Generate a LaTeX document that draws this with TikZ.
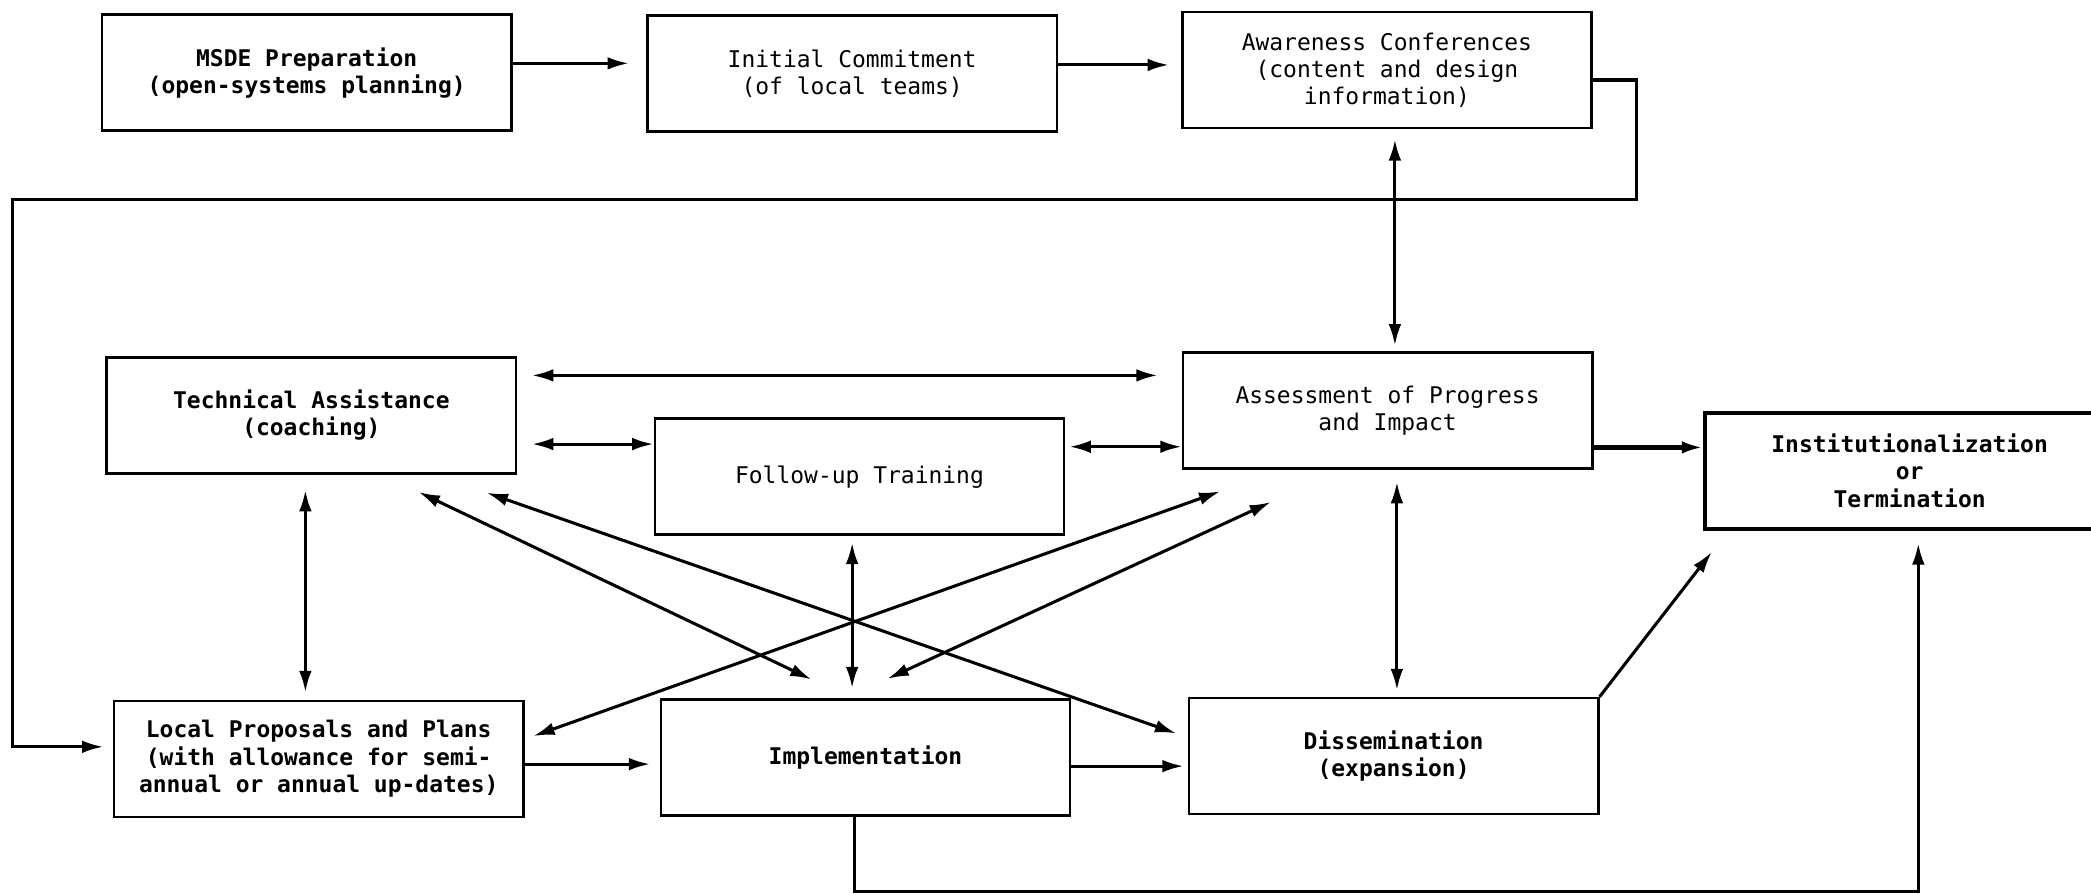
\documentclass[tikz,border=0pt]{standalone}
\usepackage{fontspec}
\setmonofont{DejaVu Sans Mono}
\usetikzlibrary{arrows.meta}
\begin{document}
\begin{tikzpicture}[x=.02cm,y=-.02cm,line width=1.1pt,
	box/.style={draw,minimum width=6.14cm,minimum height=1.74cm,inner sep=0pt,align=center,font=\ttfamily\fontsize{9.8}{11.6}\selectfont},
	bf/.style={font=\ttfamily\bfseries\fontsize{9.8}{11.6}\selectfont},
	arr/.style={-{Latex[length=.32cm,width=.19cm]},line width=1.3pt},
	dbl/.style={{Latex[length=.32cm,width=.19cm]}-{Latex[length=.32cm,width=.19cm]},line width=1.3pt}]
		\useasboundingbox[fill=white](0,0)rectangle(1568,670);
		% boxes
		\node[box,bf](MSDE)at(230,54.5){MSDE Preparation\\(open-systems planning)};
		\node[box](Init)at(639,55){Initial Commitment\\(of local teams)};
		\node[box](Aware)at(1040,52.5){Awareness Conferences\\(content and design\\information)};
		\node[box,bf](Tech)at(233.5,311.5){Technical Assistance\\(coaching)};
		\node[box](Follow)at(644.5,357.5){Follow-up Training};
		\node[box](Assess)at(1040.5,308){Assessment of Progress\\and Impact};
		\node[box,bf,line width=1.6pt](Inst)at(1432,353){Institutionalization\\or\\Termination};
		\node[box,bf](Local)at(239,569){Local Proposals and Plans\\(with allowance for semi-\\annual or annual up-dates)};
		\node[box,bf](Impl)at(649,568){Implementation};
		\node[box,bf](Diss)at(1045,567){Dissemination\\(expansion)};
		\coordinate(FR)at(1227,149.5);
		\coordinate(FL)at(9.5,149.5);
		% top row and feedback loop
		\draw[arr,shorten >=.26cm]([shift={(0,-7)}]MSDE.east)--([shift={(0,-7)}]MSDE.east-|Init.west);
		\draw[arr,shorten >=.18cm]([shift={(0,-6.3)}]Init.east)--([shift={(0,-6.3)}]Init.east-|Aware.west);
		\draw[arr,shorten >=.14cm]([shift={(0,7.5)}]Aware.east)-|(FR)--(FL)|-([shift={(0,-9)}]Local.west);
		\draw[dbl,shorten <=.15cm,shorten >=.09cm]([shift={(6,0)}]Aware.south)--([shift={(6,0)}]Aware.south|-Assess.north);
		% middle row
		\draw[dbl,shorten <=.22cm,shorten >=.36cm]([shift={(0,-30)}]Tech.east)--([shift={(0,-30)}]Tech.east-|Assess.west);
		\draw[dbl,shorten <=.22cm]([shift={(0,21.5)}]Tech.east)--([shift={(0,21.5)}]Tech.east-|Follow.west);
		\draw[dbl,shorten <=.06cm]([shift={(0,-22.5)}]Follow.east)--([shift={(0,-22.5)}]Follow.east-|Assess.west);
		\draw[arr,line width=2pt]([shift={(0,27.5)}]Assess.east)--([shift={(0,27.5)}]Assess.east-|Inst.west);
		% verticals
		\draw[dbl,shorten <=.23cm,shorten >=.11cm]([shift={(-4.5,0)}]Tech.south)--([shift={(-4.5,0)}]Tech.south|-Local.north);
		\draw[dbl,shorten <=.1cm,shorten >=.15cm]([shift={(-5.5,0)}]Follow.south)--([shift={(-5.5,0)}]Follow.south|-Impl.north);
		\draw[dbl,shorten <=.18cm,shorten >=.1cm]([shift={(7,0)}]Assess.south)--([shift={(7,0)}]Assess.south|-Diss.north);
		% diagonals
		\draw[dbl]([shift={(-74,13)}]Tech.south east)--([shift={(114,-14)}]Impl.north west);
		\draw[dbl]([shift={(-23,13.5)}]Tech.south east)--([shift={(-8.5,-17)}]Diss.west);
		\draw[dbl]([shift={(6.5,-17)}]Local.east)--([shift={(29,16)}]Assess.south west);
		\draw[dbl]([shift={(-138,-14.5)}]Impl.north east)--([shift={(67,24)}]Assess.south west);
		% bottom row
		\draw[arr,shorten >=.14cm]([shift={(0,4)}]Local.east)--([shift={(0,4)}]Local.east-|Impl.west);
		\draw[arr,shorten >=.06cm]([shift={(0,6.5)}]Impl.east)--([shift={(0,6.5)}]Impl.east-|Diss.west);
		\draw[arr](Diss.north east)--([shift={(6.5,16)}]Inst.south west);
		\draw[arr,shorten >=.19cm]([shift={(-8.5,0)}]Impl.south)--++(0,56)-|([shift={(6.5,0)}]Inst.south);
\end{tikzpicture}
\end{document}
